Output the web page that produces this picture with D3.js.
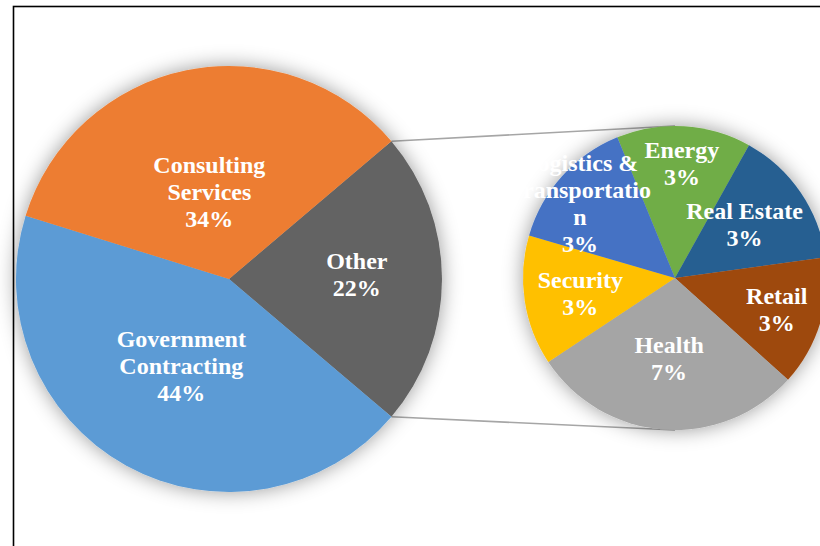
<!DOCTYPE html>
<html>
<head>
<meta charset="utf-8">
<script src="https://cdn.jsdelivr.net/npm/d3@7"></script>
<style>
  html, body { margin: 0; padding: 0; background: #fff; }
  svg { display: block; }
</style>
</head>
<body>
<svg id="chart" width="820" height="546"></svg>
<script>
// Revenue by sector: main pie with the "Other" share split out into a second pie
const mainCategories = ["Government\nContracting", "Consulting\nServices"];
const mainValues = [43.6, 34.0];
const otherCategory = "Other";

const subCategories = ["Energy", "Real Estate", "Retail", "Health", "Security", "Logistics &\nTransportatio\nn"];
const subValues = [3.2, 3.3, 3.1, 6.5, 3.1, 3.2];

const mainColors = ["#636363", "#5B9BD5", "#ED7D31"];   // Other, Government, Consulting
const subColors = ["#70AD47", "#255E91", "#9E480E", "#A5A5A5", "#FFC000", "#4472C4"];

// label distance from centre (fraction of radius) and small pixel nudges
const mainLabelRadius = [0.6, 0.465, 0.415];
const mainLabelNudge = [[0, -5], [0, 0], [-2, 0]];
const subLabelRadius = [0.76, 0.57, 0.70, 0.53, 0.63, 0.78];
const subLabelNudge = [[0, 1], [-2, -5], [0, 0], [0, 0], [0, 1], [-7, 5]];

const svg = d3.select("#chart");

// soft glow shadow around the pies
const defs = svg.append("defs");
const f = defs.append("filter").attr("id", "glow")
  .attr("x", "-30%").attr("y", "-30%").attr("width", "160%").attr("height", "160%");
f.append("feDropShadow").attr("dx", 0).attr("dy", 0)
  .attr("stdDeviation", 10).attr("flood-color", "#000").attr("flood-opacity", 0.4);

// frame
svg.append("rect").attr("x", 13.5).attr("y", 6.5).attr("width", 900).attr("height", 900)
  .attr("fill", "none").attr("stroke", "#000").attr("stroke-width", 1.6);

const otherValue = d3.sum(subValues);
const mainData = [
  { name: otherCategory, value: otherValue },
  ...mainCategories.map((c, i) => ({ name: c, value: mainValues[i] }))
];
const total = d3.sum(mainData, d => d.value);
const subData = subCategories.map((c, i) => ({ name: c, value: subValues[i] }));

const main = { cx: 229, cy: 279, r: 213 };
const sub = { cx: 675, cy: 278, r: 152 };

// the Other slice faces the second pie
const otherSpan = 2 * Math.PI * otherValue / total;
const mainStart = Math.PI / 2 - otherSpan / 2;
const mainPie = d3.pie().sort(null).value(d => d.value)
  .startAngle(mainStart).endAngle(mainStart + 2 * Math.PI);
const subStart = -22.3 * Math.PI / 180;
const subPie = d3.pie().sort(null).value(d => d.value)
  .startAngle(subStart).endAngle(subStart + 2 * Math.PI);

const mainArcs = mainPie(mainData);
const subArcs = subPie(subData);

const fmt = v => Math.round(v / total * 100) + "%";

// connector lines from the Other slice edges to the second pie
const otherArc = mainArcs[0];
const pt = (c, a, r) => [c.cx + Math.sin(a) * r, c.cy - Math.cos(a) * r];
const conn = [
  [pt(main, otherArc.startAngle, main.r), pt(sub, 0, sub.r)],
  [pt(main, otherArc.endAngle, main.r), pt(sub, Math.PI, sub.r)]
];
svg.append("g").selectAll("line").data(conn).join("line")
  .attr("x1", d => d[0][0]).attr("y1", d => d[0][1])
  .attr("x2", d => d[1][0]).attr("y2", d => d[1][1])
  .attr("stroke", "#a6a6a6").attr("stroke-width", 1.6);

function drawPie(arcs, geo, colors, labelRadius, nudge) {
  const g = svg.append("g").attr("transform", `translate(${geo.cx},${geo.cy})`);
  const arc = d3.arc().innerRadius(0).outerRadius(geo.r);
  g.append("g").attr("filter", "url(#glow)")
    .selectAll("path").data(arcs).join("path")
    .attr("d", arc)
    .attr("fill", (d, i) => colors[i]);

  const lh = 27;
  const lg = g.append("g")
    .attr("font-family", "'Liberation Serif', 'Times New Roman', serif")
    .attr("font-weight", "bold")
    .attr("font-size", "24px")
    .attr("fill", "#fff")
    .attr("text-anchor", "middle");
  arcs.forEach((d, i) => {
    const k = labelRadius[i] * geo.r;
    const c = d3.arc().innerRadius(k).outerRadius(k).centroid(d);
    const x = c[0] + nudge[i][0], y = c[1] + nudge[i][1];
    const lines = d.data.name.split("\n").concat([fmt(d.data.value)]);
    const t = lg.append("text");
    const y0 = y - (lines.length - 1) * lh / 2 + 8;
    lines.forEach((s, j) => {
      t.append("tspan").attr("x", x).attr("y", y0 + j * lh).text(s);
    });
  });
}

drawPie(mainArcs, main, mainColors, mainLabelRadius, mainLabelNudge);
drawPie(subArcs, sub, subColors, subLabelRadius, subLabelNudge);
</script>
</body>
</html>
